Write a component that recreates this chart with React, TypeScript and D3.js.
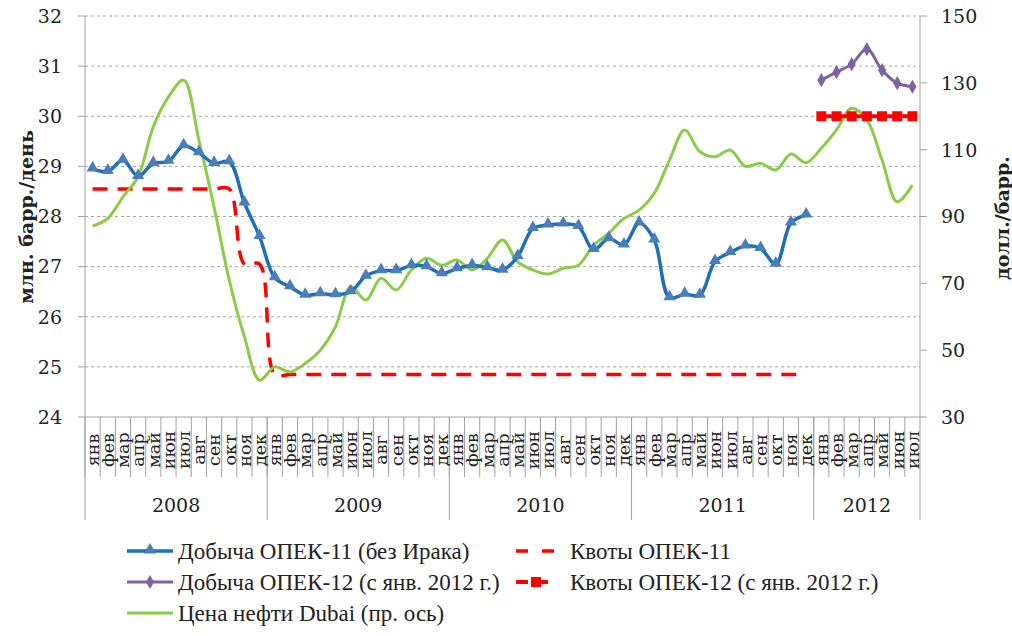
import * as d3 from 'd3';
import React from 'react';

const months = ['янв', 'фев', 'мар', 'апр', 'май', 'июн', 'июл', 'авг', 'сен', 'окт', 'ноя', 'дек'];
const years = ['2008', '2009', '2010', '2011', '2012'];
const monthsInLastYear = 7;

// Добыча ОПЕК-11 (без Ирака), млн барр./день, янв 2008 – дек 2011
const opec11Output = [
  28.95, 28.9, 29.12, 28.8, 29.06, 29.1, 29.41, 29.27, 29.06, 29.09, 28.27, 27.6,
  26.78, 26.6, 26.43, 26.46, 26.44, 26.5, 26.81, 26.92, 26.92, 27.02, 27.0, 26.86,
  26.96, 27.02, 26.98, 26.93, 27.2, 27.76, 27.83, 27.85, 27.8, 27.34, 27.56, 27.43,
  27.87, 27.53, 26.38, 26.45, 26.43, 27.1, 27.28, 27.41, 27.36, 27.05, 27.87, 28.03,
];
// Квоты ОПЕК-11
const opec11Quota = [
  28.55, 28.55, 28.55, 28.55, 28.55, 28.55, 28.55, 28.55, 28.55, 28.55, 27.05, 27.05,
  24.85, 24.85, 24.85, 24.85, 24.85, 24.85, 24.85, 24.85, 24.85, 24.85, 24.85, 24.85,
  24.85, 24.85, 24.85, 24.85, 24.85, 24.85, 24.85, 24.85, 24.85, 24.85, 24.85, 24.85,
  24.85, 24.85, 24.85, 24.85, 24.85, 24.85, 24.85, 24.85, 24.85, 24.85, 24.85, 24.85,
];
// Добыча ОПЕК-12 (с янв. 2012 г.), янв – июл 2012
const opec12Output = [30.72, 30.88, 31.04, 31.34, 30.92, 30.66, 30.59];
// Квоты ОПЕК-12
const opec12Quota = [30.0, 30.0, 30.0, 30.0, 30.0, 30.0, 30.0];
// Цена нефти Dubai, долл./барр. (правая ось)
const dubaiPrice = [
  87.1, 89.4, 95.9, 101.9, 116.9, 125.8, 130.8, 112.9, 92.9, 71, 54, 41,
  45, 43.5, 46, 50, 57, 69, 65, 71.5, 68, 74, 77.5, 75.4,
  77, 74, 77.5, 83, 76.4, 74, 72.8, 74.5, 75.4, 81.4, 85, 89.4,
  91.9, 97, 106.9, 115.9, 109.4, 107.9, 109.9, 105, 105.9, 103.9, 108.7, 106.1,
  110.4, 115.9, 122.4, 118.9, 106.9, 94.4, 99.4,
];

const leftTicks = [24, 25, 26, 27, 28, 29, 30, 31, 32];
const rightTicks = [30, 50, 70, 90, 110, 130, 150];

const W = 1012;
const H = 636;
const plot = { left: 85, right: 920, top: 16, bottom: 417 };
const serif = "'DejaVu Serif', serif";
const legendFont = "'Liberation Serif', serif";

const C = {
  blue: '#1f6fb6',
  blueMarker: '#4a7ebb',
  purple: '#7f63a1',
  red: '#ff0000',
  green: '#8ccb48',
  grid: '#a6a6a6',
  axis: '#a0a0a0',
};

const App = () => {
  const allMonths: { label: string; year: number }[] = [];
  years.forEach((y, yi) => {
    const n = yi === years.length - 1 ? monthsInLastYear : 12;
    for (let m = 0; m < n; m++) allMonths.push({ label: months[m], year: yi });
  });
  const idx = allMonths.map((_, i) => i);

  const x = d3.scaleBand<number>().domain(idx).range([plot.left, plot.right]).padding(0);
  const bw = x.bandwidth();
  const cx = (i: number) => (x(i) as number) + bw / 2;
  const y = d3.scaleLinear().domain([24, 32]).range([plot.bottom, plot.top]);
  const y2 = d3.scaleLinear().domain([30, 150]).range([plot.bottom, plot.top]);

  const smooth = d3.curveCatmullRom.alpha(0.5);
  const lineL = (offset: number) =>
    d3.line<number>().x((_, i) => cx(i + offset)).y((d) => y(d)).curve(smooth);
  const lineR = d3.line<number>().x((_, i) => cx(i)).y((d) => y2(d)).curve(smooth);

  const tri = d3.symbol(d3.symbolTriangle, 64)() as string;
  const diamond = d3.symbol(d3.symbolDiamond, 58)() as string;
  const o12 = 48;

  const yearStarts = [0, 12, 24, 36, 48, allMonths.length];

  const legendRows = [
    { x: 127, y: 551, text: 'Добыча ОПЕК-11 (без Ирака)', kind: 'blue' },
    { x: 516, y: 551, text: 'Квоты ОПЕК-11', kind: 'redDash' },
    { x: 127, y: 582, text: 'Добыча ОПЕК-12 (с янв. 2012 г.)', kind: 'purple' },
    { x: 516, y: 582, text: 'Квоты ОПЕК-12 (с янв. 2012 г.)', kind: 'redSq' },
    { x: 127, y: 613, text: 'Цена нефти Dubai (пр. ось)', kind: 'green' },
  ];

  return (
    <svg width={W} height={H} style={{ position: 'absolute', left: 0, top: 0, background: '#fff' }}>
      {/* gridlines */}
      {leftTicks.slice(1).map((t) => (
        <line key={'g' + t} x1={plot.left} x2={plot.right} y1={y(t)} y2={y(t)}
          stroke={C.grid} strokeWidth={1} strokeDasharray="3,3" />
      ))}
      {/* axes */}
      <line x1={plot.left} x2={plot.left} y1={plot.top} y2={plot.bottom} stroke={C.axis} />
      <line x1={plot.right} x2={plot.right} y1={plot.top} y2={plot.bottom} stroke={C.axis} />
      <line x1={plot.left} x2={plot.right} y1={plot.bottom} y2={plot.bottom} stroke={C.axis} />
      {leftTicks.map((t) => (
        <g key={'l' + t}>
          <line x1={plot.left - 7} x2={plot.left} y1={y(t)} y2={y(t)} stroke={C.axis} />
          <text x={62} y={y(t)} dy="0.36em" textAnchor="end" fontFamily={serif} fontSize={19} fill="#222">{t}</text>
        </g>
      ))}
      {rightTicks.map((t) => (
        <g key={'r' + t}>
          <line x1={plot.right} x2={plot.right + 7} y1={y2(t)} y2={y2(t)} stroke={C.axis} />
          <text x={941} y={y2(t)} dy="0.36em" textAnchor="start" fontFamily={serif} fontSize={19} fill="#222">{t}</text>
        </g>
      ))}
      {/* month ticks and labels */}
      {idx.map((i) => (
        <line key={'mt' + i} x1={x(i)} x2={x(i)} y1={plot.bottom} y2={477} stroke={C.axis} />
      ))}
      {yearStarts.map((s) => {
        const xx = s < allMonths.length ? (x(s) as number) : plot.right;
        return <line key={'ys' + s} x1={xx} x2={xx} y1={plot.bottom} y2={520} stroke={C.axis} />;
      })}
      {allMonths.map((m, i) => (
        <text key={'ml' + i} transform={`translate(${cx(i)},450) rotate(-90)`} textAnchor="middle"
          dy="0.36em" fontFamily={serif} fontSize={17.5} fill="#222">{m.label}</text>
      ))}
      {years.map((yr, yi) => {
        const a = x(yearStarts[yi]) as number;
        const b = yearStarts[yi + 1] < allMonths.length ? (x(yearStarts[yi + 1]) as number) : plot.right;
        return (
          <text key={'yr' + yr} x={(a + b) / 2} y={505} dy="0.36em" textAnchor="middle"
            fontFamily={serif} fontSize={19} fill="#222">{yr}</text>
        );
      })}
      {/* axis titles */}
      <text transform={`translate(26,217) rotate(-90)`} textAnchor="middle" dy="0.36em"
        fontFamily={serif} fontWeight="bold" fontSize={19} fill="#222">млн. барр./день</text>
      <text transform={`translate(1002,218) rotate(-90)`} textAnchor="middle" dy="0.36em"
        fontFamily={serif} fontWeight="bold" fontSize={19} fill="#222">долл./барр.</text>

      {/* series */}
      <path d={lineL(0)(opec11Quota) as string} fill="none" stroke={C.red} strokeWidth={3.5} strokeDasharray="15,10" />
      <path d={lineR(dubaiPrice) as string} fill="none" stroke={C.green} strokeWidth={3} />
      <path d={lineL(0)(opec11Output) as string} fill="none" stroke={C.blue} strokeWidth={3.5} />
      {opec11Output.map((v, i) => (
        <path key={'t' + i} d={tri} transform={`translate(${cx(i)},${y(v) - 1})`} fill={C.blueMarker} />
      ))}
      <path d={lineL(o12)(opec12Quota) as string} fill="none" stroke={C.red} strokeWidth={4} strokeDasharray="12,3" />
      {opec12Quota.map((v, i) => (
        <rect key={'q' + i} x={cx(i + o12) - 5} y={y(v) - 5} width={10} height={10} fill={C.red} />
      ))}
      <path d={lineL(o12)(opec12Output) as string} fill="none" stroke={C.purple} strokeWidth={3} />
      {opec12Output.map((v, i) => (
        <path key={'d' + i} d={diamond} transform={`translate(${cx(i + o12)},${y(v)})`} fill={C.purple} />
      ))}

      {/* legend */}
      {legendRows.map((r) => (
        <g key={r.text} transform={`translate(${r.x},${r.y})`}>
          {r.kind === 'blue' && (
            <g>
              <line x1={0} x2={46} y1={0} y2={0} stroke={C.blue} strokeWidth={3.5} />
              <path d={tri} transform="translate(23,-1)" fill={C.blueMarker} />
            </g>
          )}
          {r.kind === 'purple' && (
            <g>
              <line x1={0} x2={46} y1={0} y2={0} stroke={C.purple} strokeWidth={3} />
              <path d={diamond} transform="translate(23,0)" fill={C.purple} />
            </g>
          )}
          {r.kind === 'green' && <line x1={0} x2={46} y1={0} y2={0} stroke={C.green} strokeWidth={3} />}
          {r.kind === 'redDash' && (
            <line x1={0} x2={38} y1={0} y2={0} stroke={C.red} strokeWidth={3.5} strokeDasharray="12,14" />
          )}
          {r.kind === 'redSq' && (
            <g>
              <line x1={0} x2={38} y1={0} y2={0} stroke={C.red} strokeWidth={4} strokeDasharray="12,8" />
              <rect x={15} y={-5} width={10} height={10} fill={C.red} />
            </g>
          )}
          <text x={r.kind === 'redDash' || r.kind === 'redSq' ? 54 : 51} y={0} dy="0.34em"
            fontFamily={legendFont} fontSize={23} fill="#222">{r.text}</text>
        </g>
      ))}
    </svg>
  );
};

export default App;
